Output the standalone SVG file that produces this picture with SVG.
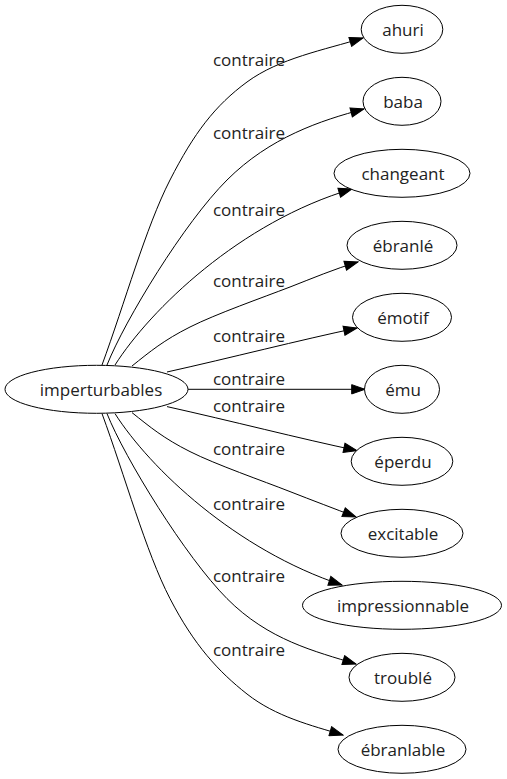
<svg xmlns="http://www.w3.org/2000/svg" width="507" height="779" viewBox="0 0 507 779">
<style>
.node ellipse{fill:#fff;stroke:#000;stroke-width:1}
text{font-family:"Open Sans","Noto Sans","Liberation Sans",sans-serif;font-size:17px;fill:#222;text-anchor:middle}
.edges path{fill:none;stroke:#000;stroke-width:1;marker-end:url(#ah)}
</style>
<defs>
<marker id="ah" markerUnits="userSpaceOnUse" markerWidth="15" markerHeight="11" viewBox="-1 -1 15 11" refX="13.3" refY="4.67" orient="auto">
<path d="M0,0 L13.3,4.67 L0,9.33 z" fill="#000" stroke="#000" stroke-width="1"/>
</marker>
</defs>
<rect width="507" height="779" fill="#fff"/>
<g class="edges" id="edges">
<path d="M102,365 C124.7,303.3 145.8,227.2 170,180 C194.2,132.8 214.8,105.7 247,82 C279.2,58.3 324,50 363,38"/>
<path d="M107,365 C125,320 184.2,222.7 227,180 C269.8,137.3 320.5,120.5 364,109"/>
<path d="M115,365 C150,310 240,222 352,189"/>
<path d="M132,366 C150,351.6 163.7,340.2 190,327 C216.3,313.8 262,297.8 290,287 C312.4,278.3 335,268.7 358,262"/>
<path d="M167,372 C230,358 300,340 357,328"/>
<path d="M188,389.3 L365,389.3"/>
<path d="M167,406.6 C230,420.6 300,438.6 357,450.6"/>
<path d="M132,412.6 C150,427 163.7,438.4 190,451.6 C216.3,464.8 262.3,480.7 290,491.6 C312.1,500.3 334.6,508.7 356,517"/>
<path d="M115,413.6 C150,468.6 236,550 342,585"/>
<path d="M107,413.6 C125,458.6 185.5,556.9 227,598.6 C268.5,640.3 314.9,651.3 356,664"/>
<path d="M102,413.6 C124.7,475.3 145.8,551.9 170,598.6 C194.2,645.3 218.2,671.3 247,694 C275.8,716.7 311.4,725.5 343,735"/>
<text x="249" y="66">contraire</text>
<text x="249" y="139">contraire</text>
<text x="249" y="216">contraire</text>
<text x="249" y="287">contraire</text>
<text x="249" y="342">contraire</text>
<text x="249" y="385">contraire</text>
<text x="249" y="412">contraire</text>
<text x="249" y="455">contraire</text>
<text x="249" y="510">contraire</text>
<text x="249" y="582">contraire</text>
<text x="249" y="656">contraire</text>
</g>
<g class="node" id="imperturbables"><ellipse cx="96.5" cy="389.3" rx="91.5" ry="24"/><text x="101" y="395.5">imperturbables</text></g>
<g class="node" id="ahuri"><ellipse cx="402" cy="29.3" rx="40.8" ry="24"/><text x="403" y="35.5">ahuri</text></g>
<g class="node" id="baba"><ellipse cx="402" cy="101.3" rx="39" ry="24"/><text x="403" y="107.5">baba</text></g>
<g class="node" id="changeant"><ellipse cx="402" cy="173.3" rx="68" ry="24"/><text x="403" y="179.5">changeant</text></g>
<g class="node" id="ebranle"><ellipse cx="402" cy="245.3" rx="55" ry="24"/><text x="403" y="251.5">ébranlé</text></g>
<g class="node" id="emotif"><ellipse cx="402" cy="317.3" rx="49.5" ry="24"/><text x="403" y="323.5">émotif</text></g>
<g class="node" id="emu"><ellipse cx="402" cy="389.3" rx="37.5" ry="24"/><text x="403" y="395.5">ému</text></g>
<g class="node" id="eperdu"><ellipse cx="402" cy="461.3" rx="50.8" ry="24"/><text x="403" y="467.5">éperdu</text></g>
<g class="node" id="excitable"><ellipse cx="402" cy="533.3" rx="61" ry="24"/><text x="403" y="539.5">excitable</text></g>
<g class="node" id="impressionnable"><ellipse cx="402" cy="605.3" rx="99.5" ry="24"/><text x="403" y="611.5">impressionnable</text></g>
<g class="node" id="trouble"><ellipse cx="402" cy="677.3" rx="53" ry="24"/><text x="403" y="683.5">troublé</text></g>
<g class="node" id="ebranlable"><ellipse cx="402" cy="749.3" rx="64" ry="24"/><text x="403" y="755.5">ébranlable</text></g>
</svg>
